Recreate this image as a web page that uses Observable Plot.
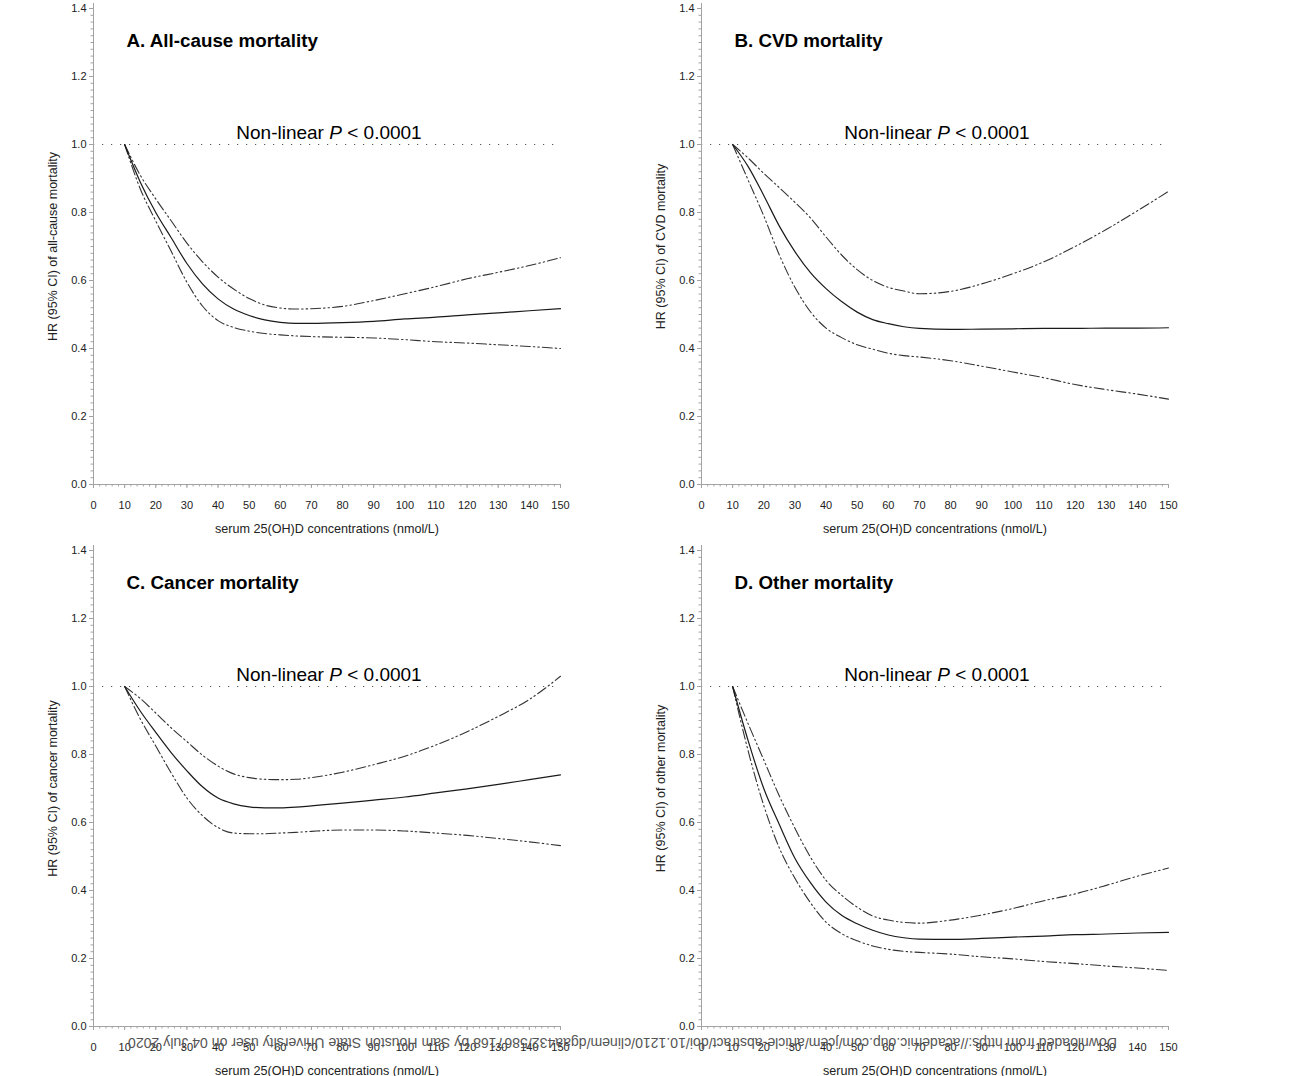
<!DOCTYPE html>
<html>
<head>
<meta charset="utf-8">
<script src="https://cdn.jsdelivr.net/npm/d3@7"></script>
<script src="https://cdn.jsdelivr.net/npm/@observablehq/plot@0.6"></script>
<style>
  html, body { margin: 0; padding: 0; background: #fff; overflow: hidden; }
  #wrap { position: relative; width: 1297px; height: 1076px; background: #fff;
          font-family: "Liberation Sans", Arial, sans-serif; }
  .panel { position: absolute; }
  #wm { position: absolute; left: 0; top: 0; pointer-events: none; }
</style>
</head>
<body>
<div id="wrap"></div>
<script>
// ---- data ----
const serum = [10,15,20,25,30,35,40,45,50,55,60,65,70,80,90,100,110,120,130,140,150];

const allMid = [1.0,0.89,0.80,0.725,0.65,0.59,0.546,0.516,0.497,0.484,0.477,0.474,0.474,0.476,0.48,0.487,0.492,0.499,0.505,0.511,0.517];
const allHi  = [1.0,0.91,0.84,0.775,0.71,0.655,0.61,0.575,0.547,0.528,0.519,0.516,0.517,0.524,0.541,0.561,0.582,0.605,0.624,0.644,0.667];
const allLo  = [1.0,0.87,0.775,0.685,0.595,0.525,0.482,0.462,0.451,0.444,0.44,0.437,0.435,0.433,0.431,0.426,0.42,0.416,0.411,0.406,0.40];

const cvdMid = [1.0,0.935,0.85,0.76,0.685,0.623,0.576,0.538,0.507,0.485,0.473,0.464,0.459,0.456,0.457,0.458,0.459,0.459,0.46,0.46,0.461];
const cvdHi  = [1.0,0.96,0.915,0.873,0.83,0.784,0.728,0.675,0.632,0.600,0.58,0.569,0.561,0.568,0.59,0.62,0.655,0.70,0.75,0.805,0.862];
const cvdLo  = [1.0,0.895,0.79,0.675,0.58,0.508,0.46,0.432,0.411,0.398,0.386,0.379,0.375,0.364,0.348,0.331,0.314,0.294,0.279,0.266,0.251];

const canMid = [1.0,0.928,0.865,0.805,0.752,0.705,0.672,0.655,0.646,0.643,0.643,0.645,0.649,0.657,0.666,0.675,0.687,0.699,0.712,0.726,0.74];
const canHi  = [1.0,0.965,0.922,0.878,0.838,0.798,0.766,0.743,0.732,0.727,0.726,0.727,0.732,0.748,0.77,0.795,0.828,0.867,0.912,0.962,1.03];
const canLo  = [1.0,0.905,0.825,0.745,0.672,0.62,0.585,0.569,0.567,0.567,0.569,0.571,0.574,0.578,0.578,0.575,0.569,0.562,0.553,0.543,0.532];

const othMid = [1.0,0.84,0.70,0.594,0.495,0.423,0.366,0.327,0.302,0.283,0.269,0.261,0.257,0.256,0.259,0.263,0.266,0.27,0.272,0.275,0.277];
const othHi  = [1.0,0.89,0.784,0.678,0.583,0.498,0.43,0.386,0.351,0.325,0.313,0.306,0.304,0.313,0.328,0.347,0.37,0.39,0.415,0.442,0.466];
const othLo  = [1.0,0.81,0.65,0.525,0.436,0.364,0.307,0.273,0.252,0.237,0.227,0.221,0.218,0.213,0.205,0.199,0.191,0.185,0.178,0.172,0.165];

const titles  = ["A. All-cause mortality", "B. CVD mortality", "C. Cancer mortality", "D. Other mortality"];
const ylabels = ["HR (95% CI) of all-cause mortality", "HR (95% CI) of CVD mortality",
                 "HR (95% CI) of cancer mortality", "HR (95% CI) of other mortality"];
const xLabel  = "serum 25(OH)D concentrations (nmol/L)";
const pText   = "Non-linear P < 0.0001";
const xTicks  = [0,10,20,30,40,50,60,70,80,90,100,110,120,130,140,150];
const yTicks  = [0,0.2,0.4,0.6,0.8,1.0,1.2,1.4];
const watermark = "Downloaded from https://academic.oup.com/jcem/article-abstract/doi/10.1210/clinem/dgaa432/5867168 by Sam Houston State University user on 04 July 2020";

// ---- build ----
const font = "'Liberation Sans', Arial, Helvetica, sans-serif";
const xMinor = d3.range(0, 151, 2);
const yMinor = d3.range(0, 71).map(i => i / 50);
const axisGray = "#a3a3a3";
const ciDash = "10,3,1.5,3,1.5,3";

function rows(mid, lo, hi) {
  return serum.map((x, i) => ({x, mid: mid[i], lo: lo[i], hi: hi[i]}));
}

function panel(i, mid, lo, hi, height, marginBottom) {
  const data = rows(mid, lo, hi);
  return Plot.plot({
    width: 600, height,
    marginLeft: 93, marginRight: 40, marginTop: 8, marginBottom,
    x: {domain: [0, 150], label: null},
    y: {domain: [0, 1.4], label: null},
    style: {fontFamily: font, fontSize: "11px", color: "#222", background: "#fff", overflow: "visible"},
    marks: [
      Plot.ruleY([1], {stroke: "#555", strokeWidth: 1.2, strokeDasharray: "1.2,7.8"}),
      Plot.line(data, {x: "x", y: "hi", curve: "monotone-x", stroke: "#333", strokeWidth: 1.1, strokeDasharray: ciDash}),
      Plot.line(data, {x: "x", y: "lo", curve: "monotone-x", stroke: "#333", strokeWidth: 1.1, strokeDasharray: ciDash}),
      Plot.line(data, {x: "x", y: "mid", curve: "monotone-x", stroke: "#1a1a1a", strokeWidth: 1.2}),
      Plot.ruleY([0], {stroke: axisGray}),
      Plot.ruleX([0], {stroke: axisGray, insetTop: -5}),
      Plot.axisX(xMinor, {tickSize: 2.5, tickFormat: () => "", stroke: axisGray, label: null}),
      Plot.axisX(xTicks, {tickSize: 4, tickPadding: 13, stroke: axisGray, fill: "#222", label: null, tickFormat: d => String(d)}),
      Plot.axisY(yMinor, {tickSize: 2.5, tickFormat: () => "", stroke: axisGray, label: null}),
      Plot.axisY(yTicks, {tickSize: 4, tickPadding: 3, stroke: axisGray, fill: "#222", label: null, tickFormat: d3.format(".1f")}),
      Plot.text([titles[i]], {text: d => d, frameAnchor: "top-left", dx: 33, dy: 32, textAnchor: "start",
                              lineAnchor: "middle", fontWeight: "bold", fontSize: 18.8, fill: "#000"}),
      Plot.text([pText], {text: d => d, frameAnchor: "top", dx: 2, dy: 124, textAnchor: "middle", lineAnchor: "middle", fontSize: 19, fill: "#000"}),
      Plot.text([ylabels[i]], {text: d => d, frameAnchor: "left", dx: -41, rotate: -90, textAnchor: "middle",
                               lineAnchor: "middle", fontSize: 12.5, fill: "#222"}),
      Plot.text([xLabel], {text: d => d, frameAnchor: "bottom", dy: 44, textAnchor: "middle", lineAnchor: "middle", fontSize: 12.6, fill: "#222"})
    ]
  });
}

const wrap = document.getElementById("wrap");
const specs = [
  {i: 0, mid: allMid, lo: allLo, hi: allHi, left: 0,   top: 0,   h: 540, mb: 56},
  {i: 1, mid: cvdMid, lo: cvdLo, hi: cvdHi, left: 608, top: 0,   h: 540, mb: 56},
  {i: 2, mid: canMid, lo: canLo, hi: canHi, left: 0,   top: 542, h: 534, mb: 50},
  {i: 3, mid: othMid, lo: othLo, hi: othHi, left: 608, top: 542, h: 534, mb: 50}
];
for (const s of specs) {
  const svg = panel(s.i, s.mid, s.lo, s.hi, s.h, s.mb);
  svg.classList.add("panel");
  svg.style.left = s.left + "px";
  svg.style.top = s.top + "px";
  // italic P in the non-linear test annotation
  svg.querySelectorAll("text").forEach(t => {
    if (t.textContent === pText) {
      t.textContent = "";
      const parts = [["Non-linear ", null], ["P", "italic"], [" < 0.0001", null]];
      for (const [str, style] of parts) {
        const ts = document.createElementNS("http://www.w3.org/2000/svg", "tspan");
        ts.textContent = str;
        if (style) ts.setAttribute("font-style", style);
        t.appendChild(ts);
      }
    }
  });
  wrap.appendChild(svg);
}

// upside-down download stamp across the bottom axes
const wm = d3.select(wrap).append("svg").attr("id", "wm").attr("width", 1297).attr("height", 1076);
wm.append("text")
  .attr("transform", "translate(1117,1038) rotate(180)")
  .attr("font-family", font).attr("font-size", 14).attr("fill", "#555")
  .attr("textLength", 989).attr("lengthAdjust", "spacingAndGlyphs")
  .text(watermark);
</script>
</body>
</html>
